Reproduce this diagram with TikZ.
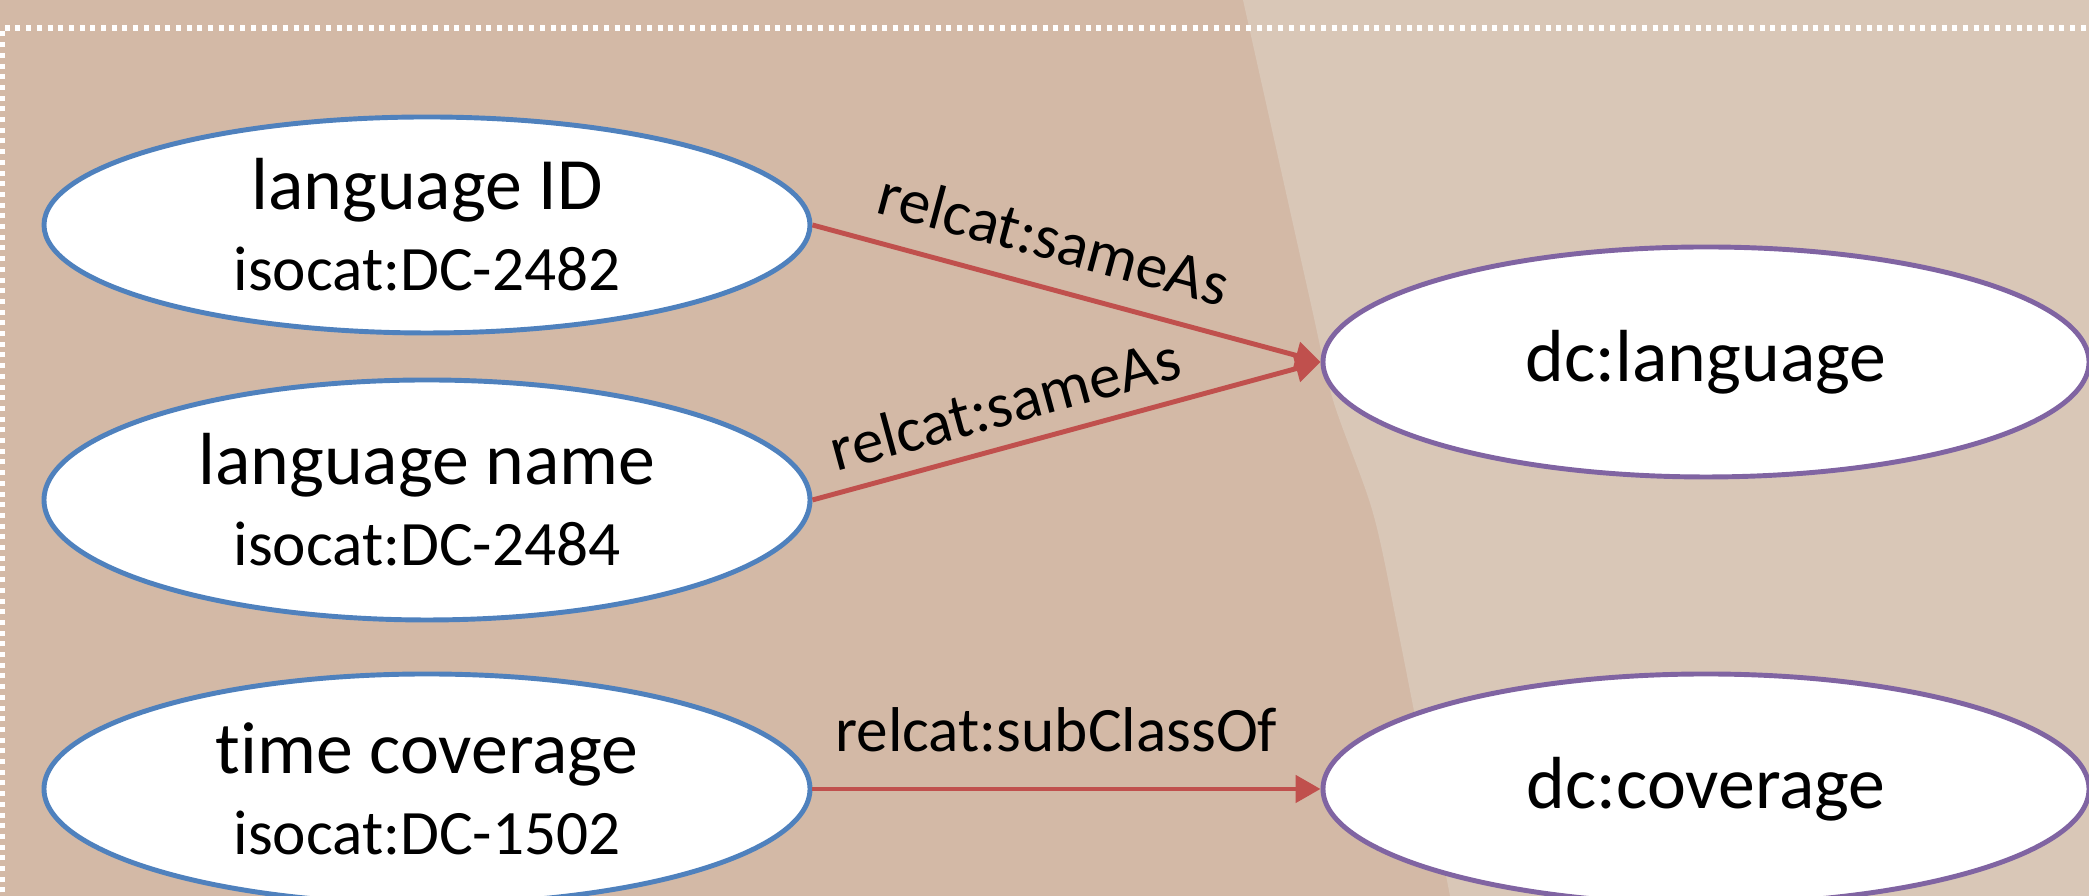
\documentclass[tikz,border=0pt]{standalone}
\usepackage{fontspec}
\setmainfont{Carlito}[Ligatures=NoCommon]
\usetikzlibrary{positioning, shapes.geometric, arrows.meta}

\definecolor{bgleft}{HTML}{D3B9A6}
\definecolor{bgright}{HTML}{D9C7B7}
\definecolor{isoblue}{HTML}{4F81BD}
\definecolor{dcpurple}{HTML}{8064A2}
\definecolor{relred}{HTML}{C0504D}

\tikzset{
  concept/.style={ellipse, draw=isoblue, line width=1.4pt, fill=white,
    minimum width=7.66cm, minimum height=2.3cm, inner sep=0pt,
    align=center, font=\fontsize{18}{23}\selectfont},
  dcterm/.style={concept, draw=dcpurple},
  rel/.style={color=relred, line width=1.4pt, -{Triangle[length=0.25cm,width=0.27cm]}},
  rellabel/.style={font=\fontsize{18}{22}\selectfont, text=black, inner sep=0pt, sloped}
}
\newcommand{\mainline}[1]{{\fontsize{21}{25}\selectfont #1}}

\begin{document}
\begin{tikzpicture}[node distance=2.9cm, on grid, auto]
   \useasboundingbox (0,0) rectangle (20.89,8.96);
   \clip (0,0) rectangle (20.89,8.96);
   % background
   \fill[bgleft] (0,0) rectangle (20.89,8.96);
   \fill[bgright] plot[smooth] coordinates {(12.43,8.96) (13.10,5.96) (13.33,4.96) (13.73,3.83) (14.00,2.56) (14.50,0)}
      -- (20.89,0) -- (20.89,8.96) -- cycle;
   \draw[white, line width=1.5pt, dash pattern=on 0.05cm off 0.057cm] (0.025,-0.5) -- (0.025,8.68) -- (21.5,8.68);

   \node[concept, minimum height=2.16cm] (langid) at (4.27,6.71) {\mainline{language ID}\\isocat:DC-2482};
   \node[concept, minimum height=2.4cm] (langname) [below=2.75 of langid] {\mainline{language name}\\isocat:DC-2484};
   \node[concept] (timecov) [below=2.89 of langname] {\mainline{time coverage}\\isocat:DC-1502};
   \node[dcterm] (dclang) at (17.06,5.34) {\mainline{dc:language}};
   \node[dcterm] (dccov) [right=12.79 of timecov] {\mainline{dc:coverage}};

   \path
    (langid.east) edge[rel] node [rellabel, above=0.25cm, pos=0.45] {relcat:sameAs} (dclang.west)
    (langname.east) edge[rel] node [rellabel, above=0.18cm, pos=0.40] {relcat:sameAs} (dclang.west)
    (timecov.east) edge[rel] node [rellabel, above=0.35cm, pos=0.48] {relcat:subClassOf} (dccov.west);
\end{tikzpicture}
\end{document}
